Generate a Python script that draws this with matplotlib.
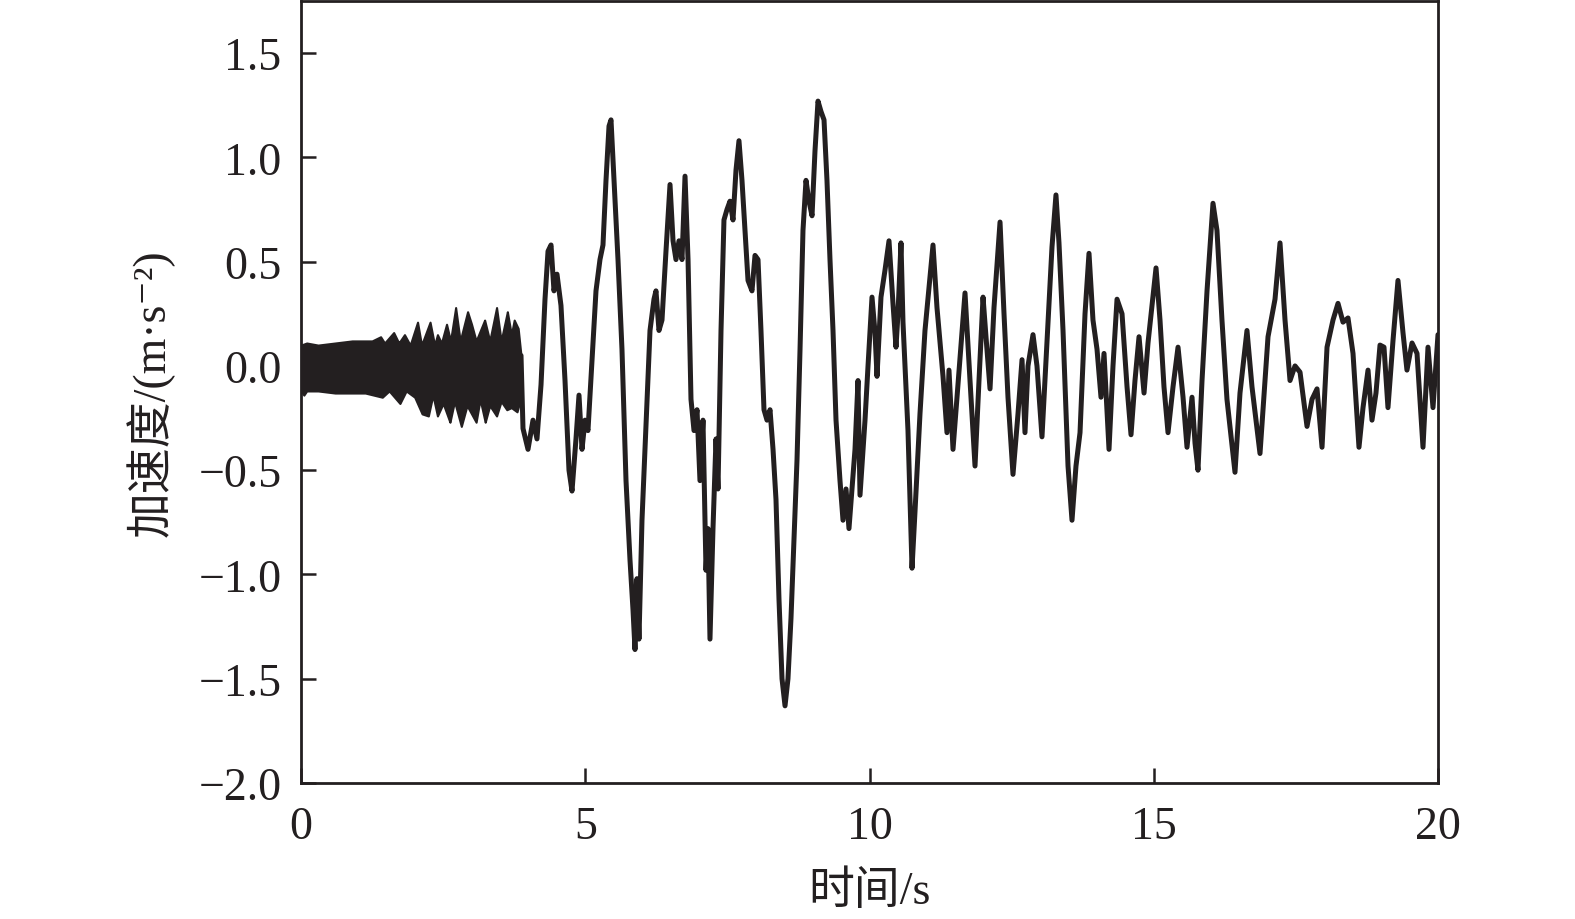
import matplotlib
matplotlib.use("Agg")
import numpy as np
import matplotlib.pyplot as plt

plt.rcParams['font.family'] = ['Liberation Serif', 'Noto Sans CJK SC', 'DejaVu Sans']
plt.rcParams['axes.unicode_minus'] = True

INK = '#231f20'

# 0 - 3.9 s: dense small oscillation, read as upper / lower envelope
band_up_t = [0.00, 0.10, 0.30, 0.60, 0.90, 1.13, 1.25, 1.40, 1.47, 1.63, 1.72, 1.82, 1.92,
             2.05, 2.12, 2.27, 2.35, 2.40, 2.47, 2.56, 2.63, 2.72, 2.80, 2.93, 3.00, 3.08,
             3.23, 3.32, 3.44, 3.52, 3.63, 3.70, 3.75, 3.82, 3.87]
band_up_v = [0.10, 0.11, 0.10, 0.11, 0.12, 0.12, 0.12, 0.14, 0.11, 0.16, 0.11, 0.15, 0.10,
             0.21, 0.10, 0.21, 0.10, 0.15, 0.11, 0.20, 0.12, 0.28, 0.12, 0.26, 0.20, 0.12,
             0.22, 0.12, 0.28, 0.12, 0.26, 0.15, 0.22, 0.18, 0.05]
band_lo_t = [0.00, 0.05, 0.10, 0.30, 0.60, 0.90, 1.13, 1.43, 1.55, 1.74, 1.85, 2.00, 2.13,
             2.24, 2.32, 2.40, 2.50, 2.62, 2.70, 2.82, 2.92, 3.08, 3.15, 3.24, 3.32, 3.44,
             3.52, 3.62, 3.70, 3.80, 3.87]
band_lo_v = [-0.12, -0.14, -0.12, -0.12, -0.13, -0.13, -0.13, -0.15, -0.12, -0.18, -0.12,
             -0.15, -0.23, -0.24, -0.14, -0.24, -0.18, -0.27, -0.17, -0.29, -0.19, -0.27,
             -0.16, -0.27, -0.19, -0.24, -0.17, -0.21, -0.20, -0.22, -0.15]

# 3.9 - 20 s: main record
time_s = [3.87, 3.905, 3.993, 4.081, 4.151, 4.222, 4.292, 4.345, 4.398, 4.450, 4.503, 4.573,
          4.644, 4.714, 4.767, 4.837, 4.890, 4.943, 4.996, 5.048, 5.119, 5.189, 5.259, 5.312,
          5.365, 5.418, 5.453, 5.506, 5.576, 5.646, 5.717, 5.787, 5.840, 5.875, 5.910, 5.945,
          5.998, 6.051, 6.139, 6.209, 6.244, 6.297, 6.350, 6.420, 6.491, 6.544, 6.596, 6.649,
          6.702, 6.755, 6.808, 6.860, 6.913, 6.966, 7.018, 7.071, 7.124, 7.159, 7.194, 7.247,
          7.300, 7.335, 7.388, 7.440, 7.493, 7.546, 7.599, 7.652, 7.704, 7.757, 7.810, 7.863,
          7.933, 7.986, 8.039, 8.091, 8.144, 8.197, 8.250, 8.303, 8.355, 8.408, 8.461, 8.514,
          8.566, 8.619, 8.672, 8.725, 8.778, 8.830, 8.883, 8.936, 8.989, 9.041, 9.094, 9.147,
          9.200, 9.252, 9.305, 9.358, 9.411, 9.481, 9.534, 9.587, 9.639, 9.692, 9.745, 9.798,
          9.833, 9.921, 9.974, 10.044, 10.097, 10.132, 10.202, 10.273, 10.343, 10.413, 10.466,
          10.501, 10.554, 10.589, 10.677, 10.748, 10.800, 10.888, 10.976, 11.117, 11.187,
          11.293, 11.363, 11.398, 11.469, 11.539, 11.680, 11.768, 11.856, 11.926, 11.997,
          12.049, 12.120, 12.190, 12.296, 12.366, 12.436, 12.524, 12.612, 12.683, 12.735,
          12.788, 12.876, 12.946, 13.034, 13.122, 13.210, 13.280, 13.333, 13.404, 13.492,
          13.562, 13.632, 13.703, 13.791, 13.861, 13.931, 14.002, 14.072, 14.125, 14.213,
          14.283, 14.354, 14.442, 14.530, 14.600, 14.670, 14.741, 14.829, 14.899, 15.040,
          15.110, 15.180, 15.251, 15.339, 15.427, 15.515, 15.585, 15.673, 15.726, 15.778,
          15.849, 15.937, 15.989, 16.042, 16.112, 16.200, 16.288, 16.429, 16.517, 16.640,
          16.728, 16.869, 17.010, 17.133, 17.221, 17.309, 17.397, 17.485, 17.573, 17.696,
          17.784, 17.872, 17.960, 18.048, 18.153, 18.241, 18.329, 18.417, 18.505, 18.610,
          18.681, 18.769, 18.839, 18.909, 18.980, 19.050, 19.120, 19.208, 19.296, 19.384,
          19.454, 19.543, 19.631, 19.736, 19.824, 19.912, 20.000]
accel = [0.05, -0.30, -0.40, -0.26, -0.35, -0.09, 0.32, 0.55, 0.58, 0.36, 0.44, 0.29,
         -0.07, -0.50, -0.60, -0.35, -0.14, -0.40, -0.26, -0.31, 0.03, 0.36, 0.51, 0.58,
         0.89, 1.15, 1.18, 0.89, 0.51, 0.08, -0.55, -0.93, -1.17, -1.36, -1.02, -1.31,
         -0.74, -0.40, 0.17, 0.32, 0.36, 0.17, 0.22, 0.55, 0.87, 0.60, 0.51, 0.60,
         0.51, 0.91, 0.51, -0.16, -0.31, -0.21, -0.55, -0.26, -0.98, -0.78, -1.31, -0.78,
         -0.35, -0.59, 0.17, 0.70, 0.75, 0.79, 0.70, 0.94, 1.08, 0.89, 0.65, 0.41,
         0.36, 0.53, 0.51, 0.17, -0.21, -0.26, -0.21, -0.40, -0.64, -1.12, -1.50, -1.63,
         -1.50, -1.21, -0.83, -0.45, 0.08, 0.65, 0.89, 0.79, 0.72, 1.03, 1.27, 1.22,
         1.18, 0.89, 0.51, 0.17, -0.26, -0.55, -0.74, -0.59, -0.78, -0.59, -0.40, -0.07,
         -0.62, -0.26, 0.00, 0.33, 0.16, -0.05, 0.33, 0.46, 0.60, 0.30, 0.09,
         0.25, 0.59, 0.21, -0.31, -0.97, -0.70, -0.23, 0.17, 0.58, 0.28,
         -0.05, -0.32, -0.02, -0.40, -0.15, 0.35, -0.07, -0.48, -0.07, 0.33,
         0.14, -0.11, 0.28, 0.69, 0.25, -0.15, -0.52, -0.23, 0.03, -0.32,
         0.00, 0.15, 0.00, -0.34, 0.12, 0.57, 0.82, 0.59, 0.17, -0.48,
         -0.74, -0.48, -0.32, 0.25, 0.54, 0.22, 0.08, -0.15, 0.06, -0.40,
         0.00, 0.32, 0.25, -0.10, -0.33, -0.07, 0.14, -0.13, 0.11, 0.47,
         0.22, -0.10, -0.32, -0.10, 0.09, -0.15, -0.39, -0.15, -0.37, -0.50,
         -0.07, 0.36, 0.57, 0.78, 0.65, 0.22, -0.16, -0.51, -0.13, 0.17,
         -0.10, -0.42, 0.14, 0.32, 0.59, 0.22, -0.07, 0.00, -0.03, -0.29,
         -0.16, -0.11, -0.39, 0.09, 0.22, 0.30, 0.21, 0.23, 0.06, -0.39,
         -0.20, -0.02, -0.26, -0.13, 0.10, 0.09, -0.20, 0.12, 0.41, 0.16,
         -0.02, 0.11, 0.06, -0.39, 0.09, -0.20, 0.15]

x_ticks = [0, 5, 10, 15, 20]
y_ticks = [-2.0, -1.5, -1.0, -0.5, 0.0, 0.5, 1.0, 1.5]

fig = plt.figure(figsize=(15.75, 9.2), dpi=100)
ax = fig.add_axes([301 / 1575, 1 - 784 / 920, (1438 - 301) / 1575, 782 / 920])

# band part: put both envelopes on one time grid for fill_between
band_t = sorted(set(band_up_t) | set(band_lo_t))
up = np.interp(band_t, band_up_t, band_up_v)
lo = np.interp(band_t, band_lo_t, band_lo_v)
ax.fill_between(band_t, lo, up, color=INK, lw=1.5, ec=INK)
ax.plot(time_s, accel, color=INK, lw=3.6, solid_joinstyle='round', solid_capstyle='round')

ax.set_xlim(0, 20)
ax.set_ylim(-2.0, 1.75)
ax.set_xticks(x_ticks)
ax.set_yticks(y_ticks)
ax.set_xticklabels([str(t) for t in x_ticks])
ax.set_yticklabels([f"{v:.1f}".replace('-', '\u2212') for v in y_ticks])

for s in ax.spines.values():
    s.set_linewidth(2.0)
    s.set_color(INK)
ax.tick_params(direction='in', length=11, width=1.8, colors=INK, labelsize=33)
ax.tick_params(axis='x', pad=16)
ax.tick_params(axis='y', pad=14)

ax.set_xlabel('时间/s', fontsize=33, color=INK, labelpad=16)
ax.set_ylabel('加速度/(m·s\u207b\u00b2)', fontsize=33, color=INK, labelpad=17)

fig.savefig('out.png', dpi=100, facecolor='white')
